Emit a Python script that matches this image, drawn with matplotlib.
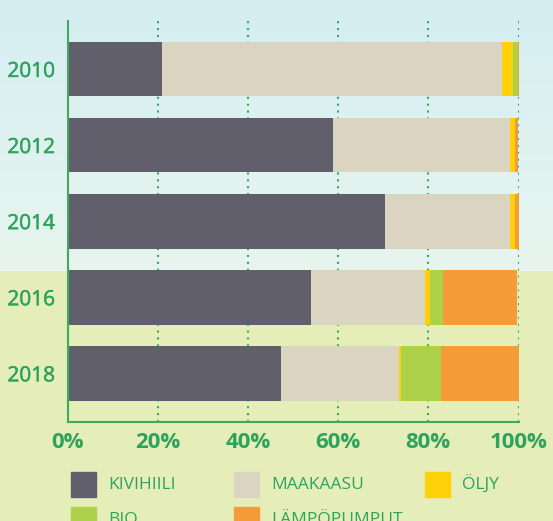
import numpy as np
import matplotlib
matplotlib.use("Agg")
import matplotlib.pyplot as plt
import matplotlib.patheffects as pe
from matplotlib.patches import Rectangle

years = ["2010", "2012", "2014", "2016", "2018"]
kivihiili = [20.9, 58.9, 70.4, 54.0, 47.4]
maakaasu = [75.4, 39.2, 27.7, 25.3, 26.1]
oljy = [2.5, 1.1, 1.1, 1.1, 0.5]
bio = [1.0, 0.0, 0.0, 2.9, 8.9]
lampopumput = [0.2, 0.8, 0.8, 16.4, 17.1]
xticks = [0, 20, 40, 60, 80, 100]

series = [
    ("KIVIHIILI", kivihiili, "#625f6c"),
    ("MAAKAASU", maakaasu, "#dbd4c0"),
    ("ÖLJY", oljy, "#fdd10a"),
    ("BIO", bio, "#aed14a"),
    ("LÄMPÖPUMPUT", lampopumput, "#f59b38"),
]
green = "#2ea35d"

plt.rcParams['font.family'] = ['Open Sans', 'DejaVu Sans']

W, H = 553, 521
fig = plt.figure(figsize=(W / 100, H / 100), dpi=100)

# background: blue gradient on top, pale green below
bg = fig.add_axes([0, 0, 1, 1], zorder=-10)
img = np.zeros((H, W, 3))
top = np.array([0xd5, 0xee, 0xf2]) / 255
mid = np.array([0xe8, 0xf5, 0xee]) / 255
low = np.array([0xe5, 0xed, 0xb8]) / 255
split = 271
t = np.linspace(0, 1, split)[:, None]
img[:split] = (top * (1 - t) + mid * t)[:, None, :]
img[split:] = low
bg.imshow(img, aspect="auto", extent=[0, W, H, 0])
bg.axis("off")

ax = fig.add_axes([67.5 / W, 1 - 422 / H, 451 / W, 401 / H])
ax.set_facecolor("none")

y = np.arange(len(years))
left = np.zeros(len(years))
for name, vals, col in series:
    ax.barh(y, vals, left=left, height=0.72, color=col, zorder=2)
    left += np.array(vals)

ax.set_xlim(0, 100)
ax.set_ylim(4.64, -0.63)
ax.set_yticks(y)
ax.set_yticklabels(years, fontsize=15, color=green)
for lbl in ax.get_yticklabels():
    lbl.set_path_effects([pe.withStroke(linewidth=0.35, foreground=green)])
ax.set_xticks(xticks)
ax.set_xticklabels([f"{v}%" for v in xticks], fontsize=16, color=green, fontweight="bold")
ax.tick_params(axis="both", length=0)
ax.tick_params(axis="y", pad=9)
ax.tick_params(axis="x", pad=7)

for v in xticks[1:]:
    ax.axvline(v, color="#35a862", lw=1.5, linestyle=(0, (1, 2.3)), zorder=1)

for s in ["top", "right"]:
    ax.spines[s].set_visible(False)
for s in ["left", "bottom"]:
    ax.spines[s].set_color("#45a862")
    ax.spines[s].set_linewidth(1.5)

# legend, laid out in rows of three
col_x = [71, 234, 425]
row_y = [472, 507]
for i, (name, vals, col) in enumerate(series):
    cx = col_x[i % 3]
    ry = row_y[i // 3]
    fig.add_artist(Rectangle((cx / W, 1 - (ry + 25) / H), 25 / W, 25 / H,
                             transform=fig.transFigure, color=col))
    fig.text((cx + 37) / W, 1 - (ry + 13) / H, name, color=green,
             fontsize=12.5, va="center", ha="left")

fig.savefig("out.png", dpi=100)
